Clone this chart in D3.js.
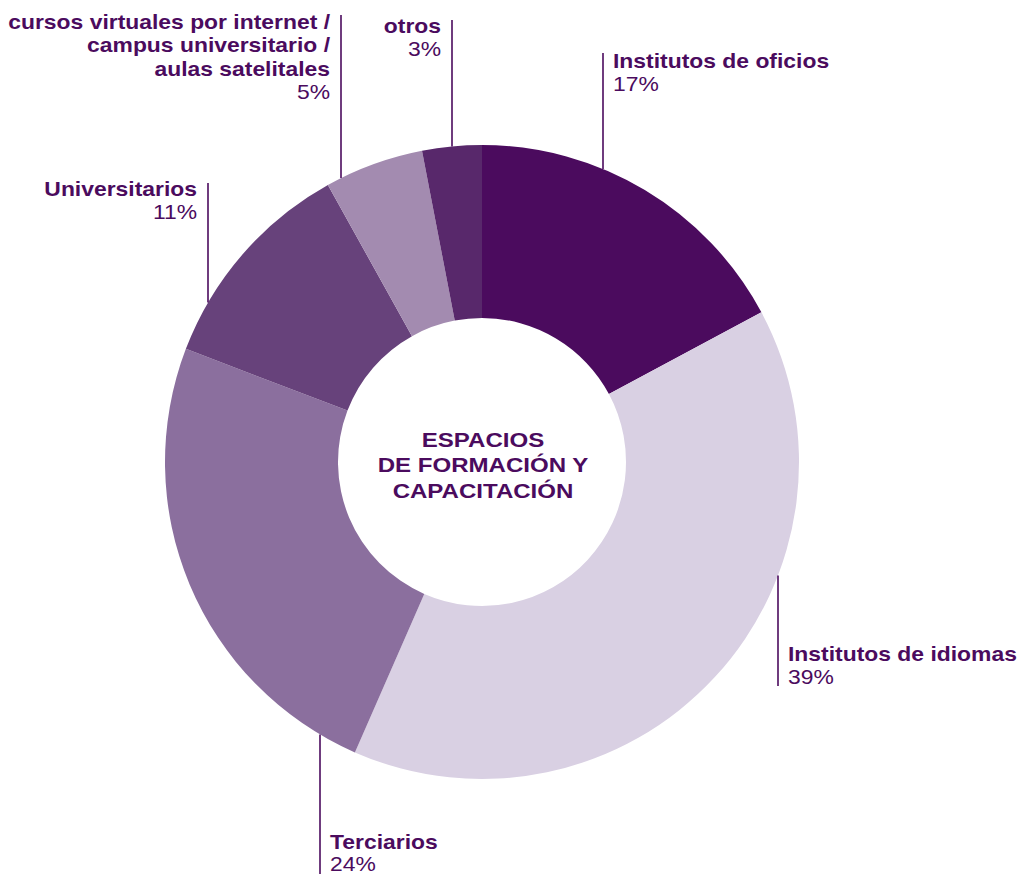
<!DOCTYPE html>
<html>
<head>
<meta charset="utf-8">
<script src="https://cdn.jsdelivr.net/npm/d3@7"></script>
<style>
  html, body { margin: 0; padding: 0; background: #fff; }
  svg { display: block; }
  text { font-family: "Liberation Sans", Helvetica, Arial, sans-serif; fill: #4b0b5e; }
</style>
</head>
<body>
<svg id="chart" width="1021" height="877"></svg>
<script>
// Categories and shares (%)
const categories = [
  "Institutos de oficios",
  "Institutos de idiomas",
  "Terciarios",
  "Universitarios",
  "cursos virtuales por internet / campus universitario / aulas satelitales",
  "otros"
];
const values = [17, 39, 24, 11, 5, 3];
const colors = ["#4b0b5e", "#d9d0e3", "#8b6f9e", "#67427b", "#a38bb0", "#58286b"];

// Label text lines for each category
const labelLines = [
  ["Institutos de oficios"],
  ["Institutos de idiomas"],
  ["Terciarios"],
  ["Universitarios"],
  ["cursos virtuales por internet /", "campus universitario /", "aulas satelitales"],
  ["otros"]
];
const centerTitle = ["ESPACIOS", "DE FORMACIÓN Y", "CAPACITACIÓN"];

// Label placement: leader x, leader far end y, text anchor side, first baseline, line step
const labelLayout = [
  { lx: 603, ly: 53,  side: "right", ty: 68,  step: 23.5 },
  { lx: 778, ly: 686, side: "right", ty: 661, step: 23.3 },
  { lx: 320, ly: 874, side: "right", ty: 849, step: 22.5 },
  { lx: 208, ly: 183, side: "left",  ty: 196, step: 23.3 },
  { lx: 341, ly: 15,  side: "left",  ty: 29,  step: 23.3 },
  { lx: 452, ly: 20,  side: "left",  ty: 33,  step: 23.3 }
];

const cx = 482, cy = 462, outerR = 317, innerR = 144;
const stretch = 1.145; // wide-set type
const svg = d3.select("#chart");
const g = svg.append("g").attr("transform", `translate(${cx},${cy})`);

const data = categories.map((c, i) => ({ name: c, value: values[i], color: colors[i], lines: labelLines[i], layout: labelLayout[i] }));

const pie = d3.pie().value(d => d.value).sort(null);
const arc = d3.arc().innerRadius(innerR).outerRadius(outerR);

g.selectAll("path.slice")
  .data(pie(data))
  .join("path")
  .attr("class", "slice")
  .attr("d", arc)
  .attr("fill", d => d.data.color);

// Leader lines: vertical, from the outer rim to the label
data.forEach(d => {
  const L = d.layout;
  const dx = L.lx - cx;
  const h = Math.sqrt(outerR * outerR - dx * dx);
  const rimY = L.ly < cy ? cy - h : cy + h;
  svg.append("line")
    .attr("x1", L.lx).attr("x2", L.lx)
    .attr("y1", L.ly).attr("y2", rimY)
    .attr("stroke", "#4b0b5e").attr("stroke-width", 1.6);

  const right = L.side === "right";
  const tx = right ? L.lx + 10 : L.lx - 11;
  const t = svg.append("text")
    .attr("transform", `translate(${tx},${L.ty}) scale(${stretch},1)`)
    .attr("text-anchor", right ? "start" : "end")
    .style("font-size", "20px");
  d.lines.forEach((line, i) => {
    t.append("tspan").attr("x", 0).attr("dy", i === 0 ? 0 : L.step)
      .style("font-weight", "bold").text(line);
  });
  t.append("tspan").attr("x", 0).attr("dy", L.step)
    .style("font-weight", "normal").text(d.value + "%");
});

// Center title
const ct = svg.append("text")
  .attr("transform", `translate(${cx + 1},447) scale(${stretch},1)`)
  .attr("text-anchor", "middle")
  .style("font-size", "21px").style("font-weight", "bold");
centerTitle.forEach((line, i) => {
  ct.append("tspan").attr("x", 0).attr("dy", i === 0 ? 0 : 25.5).text(line);
});
</script>
</body>
</html>
